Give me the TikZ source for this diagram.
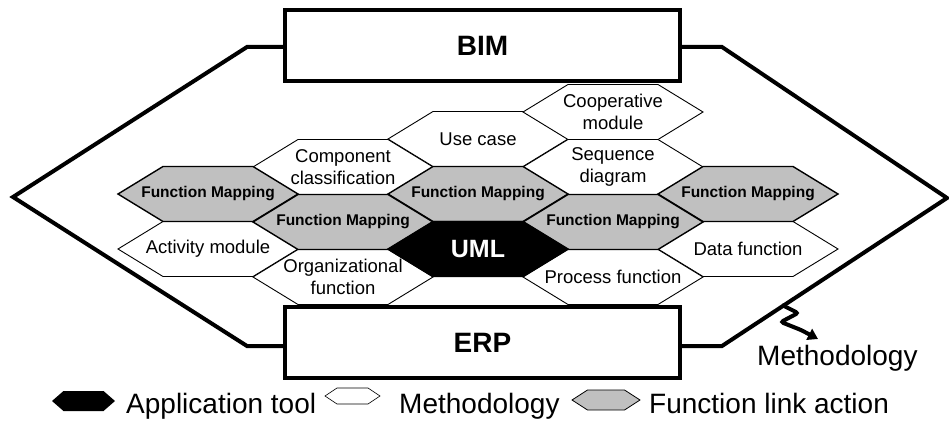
\documentclass[tikz,border=0pt]{standalone}
\usepackage{fontspec}
\setmainfont{Liberation Sans}
\usetikzlibrary{arrows.meta}
\definecolor{linkgray}{RGB}{192,192,192}
\tikzset{
  % hexagon with pointed left/right ends: half width / half top edge / half height
  pics/hexcell/.style args={#1/#2/#3}{code={%
    \path[pic actions] (-#1,0) -- (-#2,-#3) -- (#2,-#3) -- (#1,0) -- (#2,#3) -- (-#2,#3) -- cycle;}},
  methodcell/.style={draw, fill=white, line width=0.9pt, line join=miter},
  linkcell/.style={draw, fill=linkgray, line width=1.4pt, line join=miter},
  toolcell/.style={draw, fill=black, line width=1.4pt, line join=miter},
  celltext/.style={font=\fontsize{18.5}{22}\selectfont, align=center, inner sep=0pt},
  linktext/.style={font=\bfseries\fontsize{15.5}{18}\selectfont, inner sep=0pt},
  tooltext/.style={font=\bfseries\fontsize{25}{28}\selectfont, text=white, inner sep=0pt},
  systembox/.style={draw, line width=4pt, minimum width=395pt, minimum height=71pt,
    font=\bfseries\fontsize{28}{32}\selectfont, inner sep=0pt},
  frame/.style={line width=4pt, line join=miter},
  legendtext/.style={anchor=base west, font=\fontsize{28}{32}\selectfont, inner sep=0pt},
}
\begin{document}
\begin{tikzpicture}[x=1pt, y=-1pt]
\useasboundingbox (0,0) rectangle (949,420);

% ---- systems ----
\node[systembox] (bim) at (482.5,45.5) {BIM};
\node[systembox] (erp) at (482.5,342.5) {ERP};

% ---- outer frame joining the two systems ----
\coordinate (fl) at (13,197);
\coordinate (fr) at (947,198);
\draw[frame] (bim.west |- 0,47) -- (247,47) -- (fl) -- (247,346) -- (erp.west |- 0,346);
\draw[frame] (bim.east |- 0,47) -- (722,47) -- (fr) -- (722,346) -- (erp.east |- 0,346);

% ---- methodology cells ----
\pic[methodcell] at (478,139) {hexcell={90/45/27.5}};
\pic[methodcell] at (613,112) {hexcell={90/45/27.5}};
\pic[methodcell] at (343,167) {hexcell={90/45/27.5}};
\pic[methodcell] at (613,167) {hexcell={90/45/27.5}};
\pic[methodcell] at (208,249) {hexcell={90/45/27.5}};
\pic[methodcell] at (748,249) {hexcell={90/45/27.5}};
\pic[methodcell] at (343,277) {hexcell={90/45/27.5}};
\pic[methodcell] at (613,277) {hexcell={90/45/27.5}};

% ---- function link cells ----
\pic[linkcell] at (208,194) {hexcell={90/45/27.5}};
\pic[linkcell] at (478,194) {hexcell={90/45/27.5}};
\pic[linkcell] at (748,194) {hexcell={90/45/27.5}};
\pic[linkcell] at (343,222) {hexcell={90/45/27.5}};
\pic[linkcell] at (613,222) {hexcell={90/45/27.5}};

% ---- application tool cell ----
\pic[toolcell] at (478,249) {hexcell={90/45/27.5}};

% ---- cell labels ----
\node[celltext] (usecase) at (478,139) {Use case};
\node[celltext] (coop) at (613,112) {Cooperative\\module};
\node[celltext] (comp) at (343,167) {Component\\classification};
\node[celltext] (seq) at (613,167) {Sequence\\diagram};
\node[celltext] (activity) at (208,249) {Activity module};
\node[celltext] (data) at (748,249) {Data function};
\node[celltext] (org) at (343,277) {Organizational\\function};
\node[celltext] (process) at (613,277) {Process function};
\node[linktext] (fm1) at (208,194) {Function Mapping};
\node[linktext] (fm2) at (478,194) {Function Mapping};
\node[linktext] (fm3) at (748,194) {Function Mapping};
\node[linktext] (fm4) at (343,222) {Function Mapping};
\node[linktext] (fm5) at (613,222) {Function Mapping};
\node[tooltext] (uml) at (478,249) {UML};

% ---- methodology pointer ----
\coordinate (mstart) at (782,305);
\node[legendtext] (mlabel) at (757,365) {Methodology};
\draw[line width=4pt, rounded corners=2.5pt, -{Triangle[length=10pt,width=12pt]}]
  (mstart) -- (798,313) -- (781,322) -- (801,330) -- (818,339);

% ---- legend ----
\pic[fill=black] at (83.5,401) {hexcell={31.5/20/10}};
\node[legendtext] (lgtool) at (126,413) {Application tool};
\pic[draw, fill=white, line width=0.6pt] at (352.5,396) {hexcell={27.5/15.5/8}};
\node[legendtext] (lgmethod) at (399,413) {Methodology};
\pic[draw, fill=linkgray, line width=0.8pt] at (606,400) {hexcell={34/18.5/10}};
\node[legendtext] (lglink) at (649,413) {Function link action};
\end{tikzpicture}
\end{document}
